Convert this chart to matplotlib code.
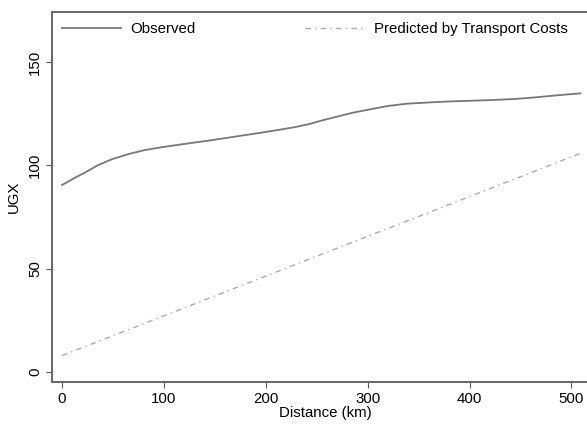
import numpy as np
import matplotlib.pyplot as plt

plt.rcParams['font.family'] = ['Liberation Sans', 'DejaVu Sans']

# observed curve
dist_obs = [0, 1.3, 12, 22.6, 35, 48.8, 65, 81.5, 100, 124, 145, 163.5, 185, 206, 229,
            243, 256.7, 266.5, 285, 305.8, 320, 338.5, 360, 381.1, 400, 423.7, 445,
            463, 485, 508.8]
ugx_obs = [90.5, 90.8, 93.8, 96.5, 100, 102.9, 105.4, 107.4, 108.9, 110.6, 112.0, 113.4,
           115.0, 116.6, 118.5, 120.0, 121.9, 123.1, 125.4, 127.4, 128.7, 129.8, 130.4,
           130.9, 131.2, 131.6, 132.1, 132.8, 133.8, 134.8]

# predicted by transport costs (straight line)
dist_pred = [0, 510]
ugx_pred = [8, 106]

xticks = [0, 100, 200, 300, 400, 500]
yticks = [0, 50, 100, 150]

fig = plt.figure(figsize=(5.87, 4.24), dpi=100)
ax = fig.add_axes([0.0886, 0.099, 0.93, 0.873])

ax.plot(dist_obs, ugx_obs, color='#777777', lw=1.3, label='Observed')
ax.plot(dist_pred, ugx_pred, color='#aaaaaa', lw=1.0, ls=(0, (4, 3, 1, 3)),
        label='Predicted by Transport Costs')

ax.set_xlim(-9.8, 526)
ax.set_ylim(-4.8, 174.2)
ax.set_xticks(xticks)
ax.set_yticks(yticks)
ax.set_yticklabels([str(v) for v in yticks], rotation=90, va='center')
ax.tick_params(labelsize=10.8, length=4, width=0.8, color='#555555', pad=3)

for s in ['left', 'bottom', 'top']:
    ax.spines[s].set_color('#666666')
    ax.spines[s].set_linewidth(1.4)
ax.spines['right'].set_visible(False)

ax.set_xlabel('Distance (km)', fontsize=10.8, labelpad=0)
ax.set_ylabel('UGX', fontsize=10.8, labelpad=5)

ax.legend(loc='upper left', ncol=2, frameon=False, fontsize=10.8,
          handlelength=3.9, handletextpad=0.67, columnspacing=7.3,
          borderaxespad=0.27, bbox_to_anchor=(0.0, 1.0))

fig.savefig('out.png', dpi=100)
